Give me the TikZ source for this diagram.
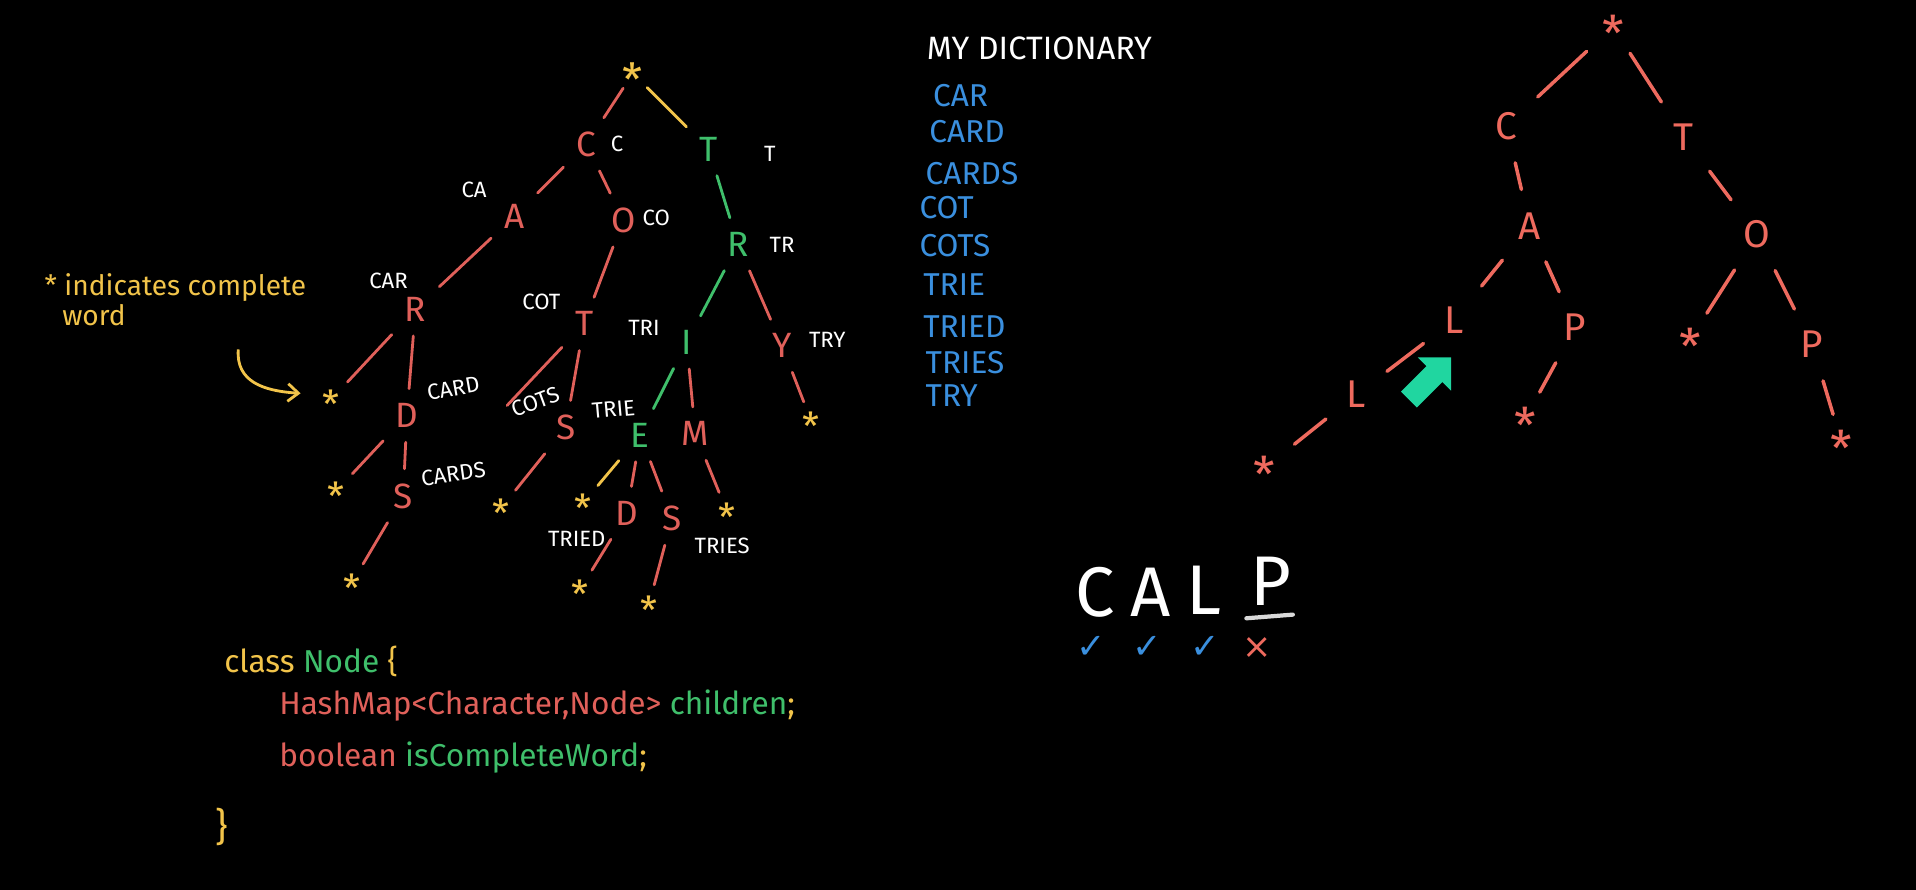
\documentclass[tikz,border=0pt]{standalone}
\usepackage{fontspec}
\setmainfont{Fira Sans}
\newfontfamily\dejavu{DejaVu Sans}
\usetikzlibrary{shapes.arrows,arrows.meta}
\definecolor{rd}{HTML}{E0605A}
\definecolor{gr}{HTML}{3FBF6B}
\definecolor{yl}{HTML}{F2C44A}
\definecolor{bl}{HTML}{3A8FDE}
\definecolor{rr}{HTML}{EE6A5E}
\definecolor{tl}{HTML}{20D6A0}
\newcommand{\astk}{\raisebox{-0.5em}[0.1em][0.1em]{*}}
\begin{document}
\begin{tikzpicture}[x=0.01222cm,y=-0.01222cm,
  ltr/.style={font=\fontsize{10}{12}\selectfont, inner sep=2.5pt},
  lred/.style={ltr, text=rd},
  lgrn/.style={ltr, text=gr},
  lstar/.style={font=\fontsize{11}{12}\selectfont, text=yl, inner sep=1.5pt},
  rtr/.style={font=\fontsize{11}{13}\selectfont, text=rr, inner sep=3pt},
  rstar/.style={font=\fontsize{14}{15}\selectfont, text=rr, inner sep=3pt},
  lab/.style={font=\fontsize{6.3}{8}\selectfont, text=white, inner sep=0pt},
  dict/.style={font=\fontsize{9}{10}\selectfont, text=bl, anchor=west, inner sep=0pt},
  er/.style={draw=rd, line width=0.8pt, line cap=round, shorten <=1.5pt, shorten >=1.5pt},
  eg/.style={draw=gr, line width=0.8pt, line cap=round, shorten <=1.5pt, shorten >=1.5pt},
  ey/.style={draw=yl, line width=0.8pt, line cap=round, shorten <=1.5pt, shorten >=1.5pt},
  err/.style={draw=rr, line width=1pt, line cap=round, shorten <=3.5pt, shorten >=3.5pt},
  code/.style={font=\fontsize{9}{11}\selectfont, anchor=base west, inner sep=0pt},
  big/.style={font=\fontsize{20}{22}\selectfont, text=white, inner sep=0pt},
  chk/.style={font=\dejavu\fontsize{10}{12}\selectfont, inner sep=0pt}
]
\useasboundingbox (0,0) rectangle (1568,728);
\fill[black] (0,0) rectangle (1568,728);

% ---------- left trie ----------
\node[lstar, font=\fontsize{13}{14}\selectfont] (L0) at (518,60) {\astk};
\node[lred] (LC) at (480,118) {C};
\node[lgrn] (LT) at (580,122) {T};
\node[lred] (LA) at (421,177) {A};
\node[lred] (LO) at (510,180) {O};
\node[lred] (LR) at (340,253) {R};
\node[lred] (LT2) at (478,265) {T};
\node[lgrn] (LR2) at (604,200) {R};
\node[lgrn] (LI) at (562,280) {I};
\node[lred] (LY) at (640,283) {Y};
\node[lstar] (Ls1) at (271,327) {\astk};
\node[lred] (LD) at (333,340) {D};
\node[lred] (LS) at (463,350) {S};
\node[lgrn] (LE) at (524,356) {E};
\node[lred] (LM) at (569,355) {M};
\node[lstar] (Ls2) at (664,345) {\astk};
\node[lstar] (Ls3) at (275,402) {\astk};
\node[lred] (LS2) at (330,406) {S};
\node[lstar] (Ls4) at (410,416) {\astk};
\node[lstar] (Ls5) at (477,412) {\astk};
\node[lred] (LD2) at (513,420) {D};
\node[lred] (LS3) at (550,424) {S};
\node[lstar] (Ls6) at (595,419) {\astk};
\node[lstar] (Ls7) at (288,477) {\astk};
\node[lstar] (Ls8) at (475,482) {\astk};
\node[lstar] (Ls9) at (531,495) {\astk};
\coordinate (Lx) at (412,335);

\draw[er] (L0) -- (LC);
\draw[ey] (L0) -- (LT);
\draw[er] (LC) -- (LA);
\draw[er] (LC) -- (LO);
\draw[eg] (LT) -- (LR2);
\draw[er] (LA) -- (LR);
\draw[er] (LO) -- (LT2);
\draw[eg] (LR2) -- (LI);
\draw[er] (LR2) -- (LY);
\draw[er, shorten >=3pt] (LR) -- (Ls1);
\draw[er] (LR) -- (LD);
\draw[er] (LT2) -- (Lx);
\draw[er] (LT2) -- (LS);
\draw[eg] (LI) -- (LE);
\draw[er] (LI) -- (LM);
\draw[er, shorten >=3pt] (LY) -- (Ls2);
\draw[er, shorten >=3pt] (LD) -- (Ls3);
\draw[er] (LD) -- (LS2);
\draw[er, shorten >=3pt] (LS) -- (Ls4);
\draw[ey, shorten >=3pt] (LE) -- (Ls5);
\draw[er] (LE) -- (LD2);
\draw[er] (LE) -- (LS3);
\draw[er, shorten >=3pt] (LM) -- (Ls6);
\draw[er, shorten >=3pt] (LS2) -- (Ls7);
\draw[er, shorten >=3pt] (LD2) -- (Ls8);
\draw[er, shorten >=3pt] (LS3) -- (Ls9);

% prefix labels
\node[lab] (pC) at (505,118) {C};
\node[lab] (pT) at (630,126) {T};
\node[lab] (pCA) at (388,155) {CA};
\node[lab] (pCO) at (537,178) {CO};
\node[lab] (pCAR) at (318,230) {CAR};
\node[lab] (pCOT) at (443,247) {COT};
\node[lab] (pTR) at (640,200) {TR};
\node[lab] (pTRI) at (527,268) {TRI};
\node[lab] (pTRY) at (677,278) {TRY};
\node[lab,rotate=10] (pCARD) at (371,318) {CARD};
\node[lab,rotate=20] (pCOTS) at (438,329) {COTS};
\node[lab,rotate=5] (pTRIE) at (502,335) {TRIE};
\node[lab,rotate=8] (pCARDS) at (371,388) {CARDS};
\node[lab] (pTRIED) at (472,441) {TRIED};
\node[lab] (pTRIES) at (591,447) {TRIES};

% note
\node[font=\fontsize{8}{6.6}\selectfont, text=yl, anchor=north west, align=left, inner sep=0pt] (note) at (36,223)
  {* indicates complete\\\hspace{5pt}word};
\coordinate (na) at (195,286);
\node[inner sep=0pt] (nb) at (248,322) {};
\draw[yl, line width=0.8pt, -{Straight Barb[length=3pt,width=5pt]}] (na) .. controls (193,312) and (215,320) .. (nb);

% code
\node[code] (c1) at (183,550) {\textcolor{yl}{class} \textcolor{gr}{Node} \textcolor{yl}{\{}};
\node[code] (c2) at (228,585) {\textcolor{rd}{HashMap<Character,Node>} \textcolor{gr}{children}\textcolor{yl}{;}};
\node[code] (c3) at (228,627) {\textcolor{rd}{boolean} \textcolor{gr}{isCompleteWord}\textcolor{yl}{;}};
\node[code, font=\fontsize{11}{12}\selectfont] (c4) at (176,688) {\textcolor{yl}{\}}};

% dictionary
\node[font=\fontsize{9.2}{10}\selectfont, text=white, anchor=west, inner sep=0pt] (dh) at (758,40) {MY DICTIONARY};
\node[dict] (d1) at (763,78) {CAR};
\node[dict] (d2) at (760,108) {CARD};
\node[dict] (d3) at (757,142) {CARDS};
\node[dict] (d4) at (752,170) {COT};
\node[dict] (d5) at (752,201) {COTS};
\node[dict] (d6) at (755,233) {TRIE};
\node[dict] (d7) at (755,267) {TRIED};
\node[dict] (d8) at (757,297) {TRIES};
\node[dict] (d9) at (757,324) {TRY};

% CALP
\node[big] (wC) at (896,485) {C};
\node[big] (wA) at (942,485) {A};
\node[big] (wL) at (985,483) {L};
\node[big] (wP) at (1040,476) {P};
\coordinate (u1) at (1020,506);
\coordinate (u2) at (1058,503);
\draw[white!85!black, line width=1.2pt, line cap=round] (u1) -- (u2);
\node[chk, text=bl] (k1) at (893,530) {✓};
\node[chk, text=bl] (k2) at (939,530) {✓};
\node[chk, text=bl] (k3) at (986,530) {✓};
\node[chk, text=rr] (k4) at (1029,530) {×};

% ---------- right trie ----------
\node[rstar] (R0) at (1320,22) {\astk};
\node[rtr] (RC) at (1233,103) {C};
\node[rtr] (RT) at (1378,112) {T};
\node[rtr] (RA) at (1252,185) {A};
\node[rtr] (RO) at (1438,192) {O};
\node[rtr] (RL1) at (1190,262) {L};
\node[rtr] (RP) at (1289,268) {P};
\node[rstar] (Rs1) at (1383,278) {\astk};
\node[rtr] (RP2) at (1483,282) {P};
\node[rtr] (RL2) at (1110,323) {L};
\node[rstar] (Rs2) at (1248,343) {\astk};
\node[rstar] (Rs3) at (1507,362) {\astk};
\node[rstar] (Rs4) at (1035,383) {\astk};
\draw[err] (R0) -- (RC);
\draw[err] (R0) -- (RT);
\draw[err] (RC) -- (RA);
\draw[err] (RT) -- (RO);
\draw[err] (RA) -- (RL1);
\draw[err] (RA) -- (RP);
\draw[err] (RO) -- (Rs1);
\draw[err] (RO) -- (RP2);
\draw[err] (RL1) -- (RL2);
\draw[err] (RL2) -- (Rs4);
\draw[err] (RP) -- (Rs2);
\draw[err] (RP2) -- (Rs3);

\node[single arrow, fill=tl, draw=none, inner sep=3pt, minimum width=13pt, minimum height=17pt,
      single arrow head extend=3.5pt, single arrow head indent=0pt, rotate=45] (garrow) at (1167,313) {};
\end{tikzpicture}
\end{document}
